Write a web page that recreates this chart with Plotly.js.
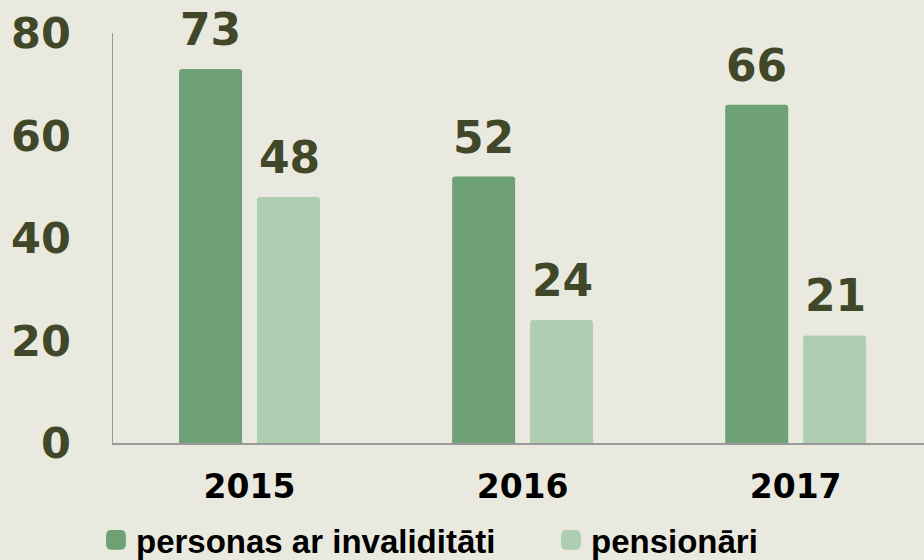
<!DOCTYPE html>
<html>
<head>
<meta charset="utf-8">
<script src="https://cdn.plot.ly/plotly-3.0.1.min.js"></script>
<style>
html,body{margin:0;padding:0;background:#EAE9DF;}
#chart{width:924px;height:560px;}
</style>
</head>
<body>
<div id="chart"></div>
<script>
var years = ['2015', '2016', '2017'];
var seriesNames = ['personas ar invaliditāti', 'pensionāri'];
var invalid = [73, 52, 66];
var pension = [48, 24, 21];

var darkGreen = '#6FA177';
var lightGreen = '#AFCDB1';
var labelColor = '#41482A';
var numFont = 'DejaVu Sans, sans-serif';
var textFont = 'Liberation Sans, Arial, sans-serif';

var traces = [
  {type: 'bar', name: seriesNames[0], x: years, y: invalid,
   marker: {color: darkGreen, cornerradius: 3}, hoverinfo: 'none'},
  {type: 'bar', name: seriesNames[1], x: years, y: pension,
   marker: {color: lightGreen, cornerradius: 3}, hoverinfo: 'none'}
];

var annotations = [];
[invalid, pension].forEach(function(vals, s) {
  vals.forEach(function(v, i) {
    annotations.push({
      x: i + (s === 0 ? -0.143 : 0.145), y: v, xref: 'x', yref: 'y',
      text: '<b>' + v + '</b>', showarrow: false,
      yanchor: 'bottom', yshift: 12,
      font: {family: numFont, size: 44, color: labelColor}
    });
  });
});

var layout = {
  width: 924, height: 560,
  paper_bgcolor: '#EAE9DF', plot_bgcolor: '#EAE9DF',
  margin: {l: 113, r: 0, t: 33, b: 117, autoexpand: false},
  barmode: 'group', bargap: 0.429, bargroupgap: 0.192,
  showlegend: true,
  legend: {orientation: 'h', x: -0.021, xanchor: 'left', y: -0.168, yanchor: 'top',
           font: {family: textFont, size: 33, color: '#000', weight: 'bold'},
           entrywidth: 410, entrywidthmode: 'pixels', itemclick: false},
  xaxis: {type: 'category', range: [-0.5, 2.47], showline: true, linecolor: '#999999', linewidth: 1.5,
          showgrid: false, zeroline: false, ticks: '', ticklabelstandoff: 14,
          tickfont: {family: numFont, size: 33, color: '#000', weight: 'bold'}},
  yaxis: {range: [0, 80], tickvals: [0, 20, 40, 60, 80], showline: true, linecolor: '#999999', linewidth: 1.5,
          showgrid: false, zeroline: false, ticks: '', ticklabelstandoff: 32,
          tickfont: {family: numFont, size: 43, color: labelColor, weight: 'bold'}},
  annotations: annotations
};

Plotly.newPlot('chart', traces, layout, {displayModeBar: false, staticPlot: true}).then(function(gd) {
  // enlarge legend swatches to match the reference's larger squares
  gd.querySelectorAll('.legendpoints path').forEach(function(p) {
    var t = p.getAttribute('transform') || '';
    p.setAttribute('transform', t + ' scale(1.65)');
  });
});
</script>
</body>
</html>
